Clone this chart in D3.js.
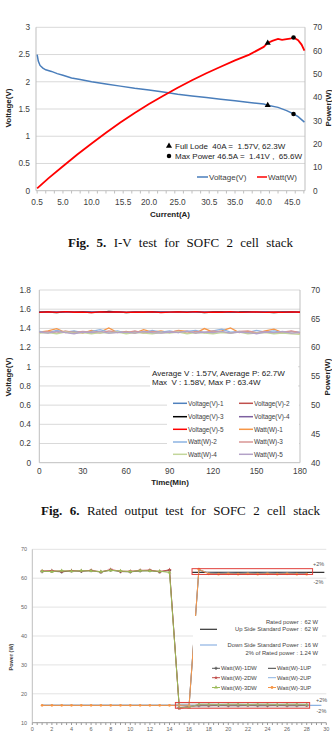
<!DOCTYPE html>
<html>
<head>
<meta charset="utf-8">
<script src="https://cdn.jsdelivr.net/npm/d3@7"></script>
<style>
body{margin:0;background:#fff}
svg text{font-family:"Liberation Sans",Arial,sans-serif;fill:#404040}
svg text.cap{font-family:"Liberation Serif","Times New Roman",serif;fill:#111}
</style>
</head>
<body>
<script>
// ---------- Fig.5 data : I-V curve ----------
var ivCurrent = [0.5,0.7,1.0,1.5,2.0,3.0,4.0,5.0,6.5,8.0,10.0,12.5,15.0,17.5,20.0,22.5,25.0,27.5,30.0,32.5,35.0,37.5,40.0,40.7,42.5,44.0,45.2,46.0,47.1];
var ivVoltage = [2.50,2.38,2.30,2.25,2.22,2.19,2.15,2.12,2.07,2.04,2.00,1.96,1.92,1.88,1.85,1.81,1.77,1.74,1.71,1.68,1.65,1.62,1.59,1.57,1.53,1.47,1.41,1.36,1.26];
var pwCurrent = [0.5,2.5,5,7.5,10,12.5,15,17.5,20,22.5,25,27.5,30,32.5,35,37.5,40,40.7,41.5,42.5,43.2,44,44.6,45.2,46,46.6,47.1];
var pwPower = [1.0,5.4,10.5,15.5,20.2,24.8,29.2,33.3,37.1,40.7,44.1,47.3,50.3,53.1,55.8,58.3,61.6,63.3,64.2,65.0,64.6,64.9,65.1,65.6,64.5,62.6,60.0];
var fullLoad = {i:40.7, v:1.57, p:63.3};
var maxPower = {i:45.2, v:1.41, p:65.6};
var currentTicks = [0.5,5.0,10.0,15.5,20.0,25.0,30.5,35.0,40.0,45.0];
var voltTicks1 = [0,0.5,1,1.5,2,2.5,3];
var powerTicks1 = [0,10,20,30,40,50,60,70];

// ---------- Fig.6 data : rated output over time ----------
var timeMin = [0,6,12,18,24,30,36,42,48,54,60,66,72,78,84,90,96,102,108,114,120,126,132,138,144,150,156,162,168,174,180];
var volt1 = [1.570,1.568,1.573,1.569,1.571,1.566,1.570,1.574,1.568,1.571,1.567,1.572,1.569,1.573,1.566,1.570,1.572,1.568,1.574,1.569,1.571,1.567,1.573,1.570,1.568,1.572,1.566,1.571,1.569,1.573,1.570];
var volt2 = [1.566,1.571,1.567,1.572,1.568,1.570,1.565,1.569,1.573,1.567,1.570,1.566,1.571,1.568,1.572,1.567,1.569,1.573,1.566,1.570,1.568,1.572,1.567,1.569,1.571,1.566,1.570,1.568,1.572,1.567,1.569];
var volt3 = [1.568,1.570,1.565,1.571,1.567,1.573,1.568,1.566,1.576,1.572,1.565,1.569,1.567,1.571,1.568,1.566,1.570,1.567,1.571,1.565,1.569,1.572,1.566,1.568,1.573,1.567,1.569,1.565,1.570,1.568,1.566];
var volt4 = [1.569,1.566,1.571,1.567,1.570,1.568,1.572,1.566,1.569,1.571,1.567,1.570,1.566,1.569,1.571,1.568,1.566,1.570,1.568,1.572,1.566,1.569,1.571,1.567,1.570,1.568,1.571,1.566,1.569,1.570,1.567];
var volt5 = [1.567,1.572,1.566,1.575,1.568,1.570,1.565,1.571,1.569,1.573,1.566,1.570,1.568,1.572,1.565,1.569,1.571,1.567,1.574,1.566,1.570,1.568,1.575,1.567,1.569,1.571,1.566,1.570,1.567,1.572,1.568];
var watt1 = [62.7,62.9,63.3,62.6,62.8,62.5,63.0,62.7,63.4,62.6,62.8,62.5,63.1,62.7,62.9,62.6,63.0,62.8,62.5,63.3,62.7,62.9,63.4,62.6,62.8,62.5,62.9,63.2,62.6,62.8,62.5];
var watt2 = [62.8,62.6,63.0,62.7,62.9,62.6,62.8,63.1,62.7,62.9,62.5,62.8,62.6,63.0,62.7,62.9,62.6,62.8,63.0,62.6,62.9,63.2,62.7,62.8,62.6,63.0,62.7,62.9,62.6,62.8,62.7];
var watt3 = [62.6,62.8,62.5,62.9,62.6,62.8,62.7,62.5,62.9,62.7,62.6,62.9,62.5,62.8,62.6,62.7,62.9,62.5,62.8,62.6,62.9,62.7,62.5,62.8,62.9,62.6,62.8,62.5,62.7,62.9,62.6];
var watt4 = [62.5,62.6,62.4,62.7,62.5,62.6,62.4,62.6,62.5,62.7,62.4,62.6,62.5,62.4,62.6,62.5,62.7,62.4,62.6,62.5,62.4,62.6,62.5,62.7,62.4,62.5,62.6,62.4,62.5,62.4,62.3];
var watt5 = [62.7,62.5,62.8,62.6,62.4,62.7,62.6,62.8,62.5,62.6,62.7,62.5,62.8,62.6,62.5,62.7,62.6,62.9,62.5,62.7,62.6,62.8,62.5,62.7,62.6,62.4,62.7,62.6,62.8,62.5,62.6];
var timeTicks = [0,30,60,90,120,150,180];
var voltTicks2 = [0,0.2,0.4,0.6,0.8,1,1.2,1.4,1.6,1.8];
var powerTicks2 = [40,45,50,55,60,65,70];

// ---------- Fig.6 lower chart data : load step test ----------
var stepIndex = [1,2,3,4,5,6,7,8,9,10,11,12,13,14,15,16,17,18,19,20,21,22,23,24,25,26,27,28];
var watt1DW = [62.3,62.4,62.2,62.5,62.4,62.6,62.1,62.8,62.3,62.2,62.5,62.6,62.2,62.7,15.2,15.6,15.9,15.9,16.0,15.9,15.9,16.0,15.9,15.9,16.0,15.9,15.9,16.0];
var watt2DW = [62.5,62.6,62.4,62.6,62.5,62.7,62.2,63.0,62.4,62.4,62.7,62.8,62.3,62.9,15.0,15.5,16.2,16.1,16.2,16.1,16.2,16.1,16.2,16.1,16.2,16.1,16.2,16.1];
var watt3DW = [62.4,62.3,62.6,62.4,62.6,62.5,62.3,62.7,62.5,62.3,62.6,62.5,62.4,62.0,15.1,15.4,16.4,16.4,16.3,16.4,16.4,16.3,16.4,16.4,16.3,16.4,16.4,16.3];
var watt1UP = [16.0,16.0,16.0,16.0,16.0,16.0,16.0,16.0,16.0,16.0,16.0,16.0,16.0,16.0,16.0,16.0,62.9,61.7,61.6,61.7,61.6,61.7,61.6,61.7,61.6,61.7,61.6,61.6];
var watt2UP = [16.1,16.1,16.1,16.1,16.1,16.1,16.1,16.1,16.1,16.1,16.1,16.1,16.1,16.1,16.1,16.1,63.0,61.8,61.7,61.8,61.7,61.8,61.7,61.8,61.7,61.8,61.7,61.7];
var watt3UP = [16.0,16.0,16.0,16.0,16.0,16.0,16.0,16.0,16.0,16.0,16.0,16.0,16.0,16.0,16.0,16.0,63.1,61.5,61.4,61.5,61.4,61.5,61.4,61.5,61.4,61.5,61.4,61.4];
var upStandard = 62, downStandard = 16;
var upBand = [61.3,63.3], downBand = [15.0,17.0];
var stepTicks = [0,2,4,6,8,10,12,14,16,18,20,22,24,26,28,30];
var powerTicks3 = [10,20,30,40,50,60,70];

var svg = d3.select("body").append("svg").attr("width",332).attr("height",735);

//small helper for horizontal grid lines
function grid(g, vals, y, x0, x1, col){
  g.selectAll(null).data(vals).enter().append("line")
    .attr("x1",x0).attr("x2",x1).attr("y1",d=>y(d)).attr("y2",d=>y(d))
    .attr("stroke",col);
}
function caption(bold, txt, x0, x1, y){
  var t = svg.append("text").attr("class","cap").attr("x",x0).attr("y",y).attr("font-size",13);
  t.append("tspan").attr("font-weight","bold").text(bold);
  t.append("tspan").text(" "+txt);
  var w = t.node().getComputedTextLength();
  var n = (bold+" "+txt).split(" ").length-1;
  t.style("word-spacing",((x1-x0-w)/n)+"px");
}

// ================= Fig.5 chart =================
var g1 = svg.append("g");
var x1 = d3.scaleLinear().domain([0.3,47.2]).range([36,305]);
var yV1 = d3.scaleLinear().domain([0,3]).range([190.7,27.3]);
var yP1 = d3.scaleLinear().domain([0,70]).range([190.7,27.3]);

grid(g1, voltTicks1.slice(1), yV1, 36, 305, "#d9d9d9");
g1.append("line").attr("x1",36).attr("x2",36).attr("y1",27.3).attr("y2",190.7).attr("stroke","#bfbfbf");
g1.append("line").attr("x1",305).attr("x2",305).attr("y1",27.3).attr("y2",190.7).attr("stroke","#bfbfbf");
g1.append("line").attr("x1",36).attr("x2",305).attr("y1",190.7).attr("y2",190.7).attr("stroke","#bfbfbf");
g1.selectAll(null).data(d3.range(0.5,47.2,1.5)).enter().append("line")
  .attr("x1",d=>x1(d)).attr("x2",d=>x1(d)).attr("y1",190.7).attr("y2",193.5).attr("stroke","#bfbfbf");

g1.selectAll(null).data(voltTicks1).enter().append("text")
  .attr("x",30).attr("y",d=>yV1(d)).attr("dy","0.35em").attr("text-anchor","end")
  .attr("font-size",8.3).text(d3.format("~g"));
g1.selectAll(null).data(powerTicks1).enter().append("text")
  .attr("x",313).attr("y",d=>yP1(d)).attr("dy","0.35em")
  .attr("font-size",8.3).text(d=>d);
g1.selectAll(null).data(currentTicks).enter().append("text")
  .attr("x",d=>x1(d)).attr("y",202).attr("dy","0.35em").attr("text-anchor","middle")
  .attr("font-size",8.3).text(d3.format(".1f"));

g1.append("text").attr("transform","translate(11,108) rotate(-90)").attr("text-anchor","middle")
  .attr("font-size",8).attr("font-weight","bold").style("fill","#222").text("Voltage(V)");
g1.append("text").attr("transform","translate(331,108) rotate(-90)").attr("text-anchor","middle")
  .attr("font-size",8).attr("font-weight","bold").style("fill","#222").text("Power(W)");
g1.append("text").attr("x",170).attr("y",214).attr("dy","0.35em").attr("text-anchor","middle")
  .attr("font-size",8).attr("font-weight","bold").style("fill","#222").text("Current(A)");

var vLine1 = d3.line().x((d,i)=>x1(ivCurrent[i])).y(d=>yV1(d));
var pLine1 = d3.line().x((d,i)=>x1(pwCurrent[i])).y(d=>yP1(d));
g1.append("path").attr("d",vLine1(ivVoltage)).attr("fill","none").attr("stroke","#4a7ebb").attr("stroke-width",1.5);
g1.append("path").attr("d",pLine1(pwPower)).attr("fill","none").attr("stroke","#ff0000").attr("stroke-width",1.8);

var tri = d3.symbol().type(d3.symbolTriangle).size(16);
var dot = d3.symbol().type(d3.symbolCircle).size(16);
g1.append("path").attr("d",tri()).attr("transform","translate("+x1(fullLoad.i)+","+yV1(fullLoad.v)+")");
g1.append("path").attr("d",tri()).attr("transform","translate("+x1(fullLoad.i)+","+yP1(fullLoad.p)+")");
g1.append("path").attr("d",dot()).attr("transform","translate("+x1(maxPower.i)+","+yV1(maxPower.v)+")");
g1.append("path").attr("d",dot()).attr("transform","translate("+x1(maxPower.i)+","+yP1(maxPower.p)+")");

g1.append("path").attr("d",tri()).attr("transform","translate(169,146)");
g1.append("path").attr("d",dot()).attr("transform","translate(169,156)");
g1.append("text").attr("x",175).attr("y",146).attr("dy","0.35em").attr("font-size",8).style("fill","#222")
  .attr("xml:space","preserve").text("Full Lode  40A =  1.57V, 62.3W");
g1.append("text").attr("x",175).attr("y",156).attr("dy","0.35em").attr("font-size",8).style("fill","#222")
  .attr("xml:space","preserve").text("Max Power 46.5A =  1.41V ,  65.6W");

g1.append("line").attr("x1",197).attr("x2",208).attr("y1",177).attr("y2",177).attr("stroke","#4a7ebb").attr("stroke-width",1.5);
g1.append("text").attr("x",209).attr("y",177).attr("dy","0.35em").attr("font-size",8).text("Voltage(V)");
g1.append("line").attr("x1",257).attr("x2",267).attr("y1",177).attr("y2",177).attr("stroke","#ff0000").attr("stroke-width",1.5);
g1.append("text").attr("x",268).attr("y",177).attr("dy","0.35em").attr("font-size",8).text("Watt(W)");

caption("Fig. 5.","I-V test for SOFC 2 cell stack",68,293,246.5);

// ================= Fig.6 upper chart =================
var g2 = svg.append("g");
var x2 = d3.scaleLinear().domain([0,180]).range([39.3,300]);
var yV2 = d3.scaleLinear().domain([0,1.8]).range([462.7,290]);
var yP2 = d3.scaleLinear().domain([40,70]).range([462.7,290]);

grid(g2, voltTicks2.slice(1), yV2, 39.3, 300, "#d9d9d9");
g2.append("line").attr("x1",39.3).attr("x2",39.3).attr("y1",290).attr("y2",462.7).attr("stroke","#bfbfbf");
g2.append("line").attr("x1",300).attr("x2",300).attr("y1",290).attr("y2",462.7).attr("stroke","#bfbfbf");
g2.append("line").attr("x1",39.3).attr("x2",300).attr("y1",462.7).attr("y2",462.7).attr("stroke","#bfbfbf");

g2.selectAll(null).data(voltTicks2).enter().append("text")
  .attr("x",31).attr("y",d=>yV2(d)).attr("dy","0.35em").attr("text-anchor","end")
  .attr("font-size",8.3).text(d3.format("~g"));
g2.selectAll(null).data(powerTicks2).enter().append("text")
  .attr("x",311).attr("y",d=>yP2(d)).attr("dy","0.35em")
  .attr("font-size",8.3).text(d=>d);
g2.selectAll(null).data(timeTicks).enter().append("text")
  .attr("x",d=>x2(d)).attr("y",471).attr("dy","0.35em").attr("text-anchor","middle")
  .attr("font-size",8.3).text(d=>d);
g2.append("text").attr("transform","translate(11,377) rotate(-90)").attr("text-anchor","middle")
  .attr("font-size",8).attr("font-weight","bold").style("fill","#222").text("Voltage(V)");
g2.append("text").attr("transform","translate(330,377) rotate(-90)").attr("text-anchor","middle")
  .attr("font-size",8).attr("font-weight","bold").style("fill","#222").text("Power(W)");
g2.append("text").attr("x",170).attr("y",482).attr("dy","0.35em").attr("text-anchor","middle")
  .attr("font-size",8).attr("font-weight","bold").style("fill","#222").text("Time(Min)");

var series2 = [
  {name:"Voltage(V)-1", vals:volt1, y:yV2, col:"#4f81bd"},
  {name:"Voltage(V)-2", vals:volt2, y:yV2, col:"#c0504d"},
  {name:"Voltage(V)-3", vals:volt3, y:yV2, col:"#000000"},
  {name:"Voltage(V)-4", vals:volt4, y:yV2, col:"#7d60a0"},
  {name:"Voltage(V)-5", vals:volt5, y:yV2, col:"#ff0000"},
  {name:"Watt(W)-1", vals:watt1, y:yP2, col:"#f79646"},
  {name:"Watt(W)-2", vals:watt2, y:yP2, col:"#8db3e2"},
  {name:"Watt(W)-3", vals:watt3, y:yP2, col:"#d99694"},
  {name:"Watt(W)-4", vals:watt4, y:yP2, col:"#c3d69b"},
  {name:"Watt(W)-5", vals:watt5, y:yP2, col:"#b3a2c7"}
];
series2.forEach(function(s){
  var ln = d3.line().x((d,i)=>x2(timeMin[i])).y(d=>s.y(d));
  g2.append("path").attr("d",ln(s.vals)).attr("fill","none").attr("stroke",s.col).attr("stroke-width",1.3);
});

g2.append("rect").attr("x",150).attr("y",365).attr("width",148).attr("height",24).attr("fill","#fff");
g2.append("text").attr("x",152).attr("y",373).attr("dy","0.35em").attr("font-size",8).style("fill","#222")
  .text("Average V : 1.57V, Average P: 62.7W");
g2.append("text").attr("x",152).attr("y",382.5).attr("dy","0.35em").attr("font-size",8).style("fill","#222")
  .attr("xml:space","preserve").text("Max  V : 1.58V, Max P : 63.4W");

g2.append("rect").attr("x",167).attr("y",396).attr("width",132).attr("height",65).attr("fill","#fff");
var legRows2 = [403.3,416.7,429.3,442,454.3];
var leg2 = g2.selectAll(null).data(series2).enter().append("g")
  .attr("transform",(d,i)=>"translate("+(i%2==0?173:239)+","+legRows2[Math.floor(i/2)]+")");
leg2.append("line").attr("x1",0).attr("x2",14).attr("stroke",d=>d.col).attr("stroke-width",1.5);
leg2.append("text").attr("x",15).attr("dy","0.35em").attr("font-size",6.4).text(d=>d.name);

caption("Fig. 6.","Rated output test for SOFC 2 cell stack",41,320,515);

// ================= Fig.6 lower chart =================
var g3 = svg.append("g");
var x3 = d3.scaleLinear().domain([0,30]).range([32.3,326.3]);
var y3 = d3.scaleLinear().domain([10,70]).range([722.7,549.3]);

grid(g3, powerTicks3.slice(1), y3, 32.3, 326.3, "#e3e3e3");
g3.append("line").attr("x1",32.3).attr("x2",32.3).attr("y1",549.3).attr("y2",722.7).attr("stroke","#bfbfbf");
g3.append("line").attr("x1",32.3).attr("x2",326.3).attr("y1",722.7).attr("y2",722.7).attr("stroke","#999");
g3.selectAll(null).data(d3.range(0,30.1,0.5)).enter().append("line")
  .attr("x1",d=>x3(d)).attr("x2",d=>x3(d)).attr("y1",722.7).attr("y2",725).attr("stroke","#999");
g3.selectAll(null).data(powerTicks3).enter().append("text")
  .attr("x",27).attr("y",d=>y3(d)).attr("dy","0.35em").attr("text-anchor","end")
  .attr("font-size",5.5).style("fill","#666").text(d=>d);
g3.selectAll(null).data(stepTicks).enter().append("text")
  .attr("x",d=>x3(d)).attr("y",729.5).attr("dy","0.35em").attr("text-anchor","middle")
  .attr("font-size",5.5).style("fill","#666").text(d=>d);
g3.append("text").attr("transform","translate(12.5,657) rotate(-90)").attr("text-anchor","middle")
  .attr("font-size",5.5).attr("font-weight","bold").style("fill","#444").text("Power (W)");

// standard lines
g3.append("line").attr("x1",x3(16.3)).attr("x2",x3(29.8)).attr("y1",y3(upStandard)).attr("y2",y3(upStandard))
  .attr("stroke","#333").attr("stroke-width",1.2);
g3.append("line").attr("x1",x3(14.6)).attr("x2",x3(29.5)).attr("y1",y3(downStandard)).attr("y2",y3(downStandard))
  .attr("stroke","#8db3e2").attr("stroke-width",1.2);

var series3 = [
  {name:"Watt(W)-1DW", vals:watt1DW, col:"#595959", mk:d3.symbolCross},
  {name:"Watt(W)-2DW", vals:watt2DW, col:"#c0504d", mk:d3.symbolStar},
  {name:"Watt(W)-3DW", vals:watt3DW, col:"#9bbb59", mk:d3.symbolTriangle},
  {name:"Watt(W)-1UP", vals:watt1UP, col:"#404040", mk:null},
  {name:"Watt(W)-2UP", vals:watt2UP, col:"#8db3e2", mk:null},
  {name:"Watt(W)-3UP", vals:watt3UP, col:"#f79646", mk:d3.symbolCircle}
];
var ln3 = d3.line().x((d,i)=>x3(stepIndex[i])).y(d=>y3(d));
series3.forEach(function(s){
  g3.append("path").attr("d",ln3(s.vals)).attr("fill","none").attr("stroke",s.col).attr("stroke-width",1);
  if(s.mk){
    g3.selectAll(null).data(s.vals).enter().append("path")
      .attr("d",d3.symbol().type(s.mk).size(6))
      .attr("transform",(d,i)=>"translate("+x3(stepIndex[i])+","+y3(d)+")")
      .attr("fill",s.col);
  }
});

// tolerance boxes
g3.append("rect").attr("x",x3(16.3)).attr("y",y3(upBand[1])).attr("width",x3(28.6)-x3(16.3))
  .attr("height",y3(upBand[0])-y3(upBand[1])).attr("fill","none").attr("stroke","#e0403c").attr("stroke-width",1);
g3.append("rect").attr("x",x3(14.6)).attr("y",y3(downBand[1])).attr("width",x3(28.3)-x3(14.6))
  .attr("height",y3(downBand[0])-y3(downBand[1])).attr("fill","#a6a6a6").attr("fill-opacity",0.35)
  .attr("stroke","#e0403c").attr("stroke-width",1);

var pctNotes = [{t:"+2%",x:313,y:564},{t:"-2%",x:313.5,y:581.7},{t:"+2%",x:316,y:700},{t:"-2%",x:316.5,y:711}];
g3.selectAll(null).data(pctNotes).enter().append("text")
  .attr("x",d=>d.x).attr("y",d=>d.y).attr("dy","0.35em").attr("font-size",5.5).style("fill","#555").text(d=>d.t);

// legend and notes
g3.append("rect").attr("x",193).attr("y",616).attr("width",129).attr("height",76).attr("fill","#fff");
var notes3 = [
  {l:"Rated power :", v:"62 W", y:622.3},
  {l:"Up Side Standard Power :", v:"62 W", y:629.3},
  {l:"Down Side Standard Power :", v:"16 W", y:645.3}
];
g3.selectAll(null).data(notes3).enter().append("text")
  .attr("x",302).attr("y",d=>d.y).attr("dy","0.35em").attr("text-anchor","end")
  .attr("font-size",5.8).style("fill","#444").text(d=>d.l);
g3.selectAll(null).data(notes3).enter().append("text")
  .attr("x",318).attr("y",d=>d.y).attr("dy","0.35em").attr("text-anchor","end")
  .attr("font-size",5.8).style("fill","#444").text(d=>d.v);
g3.append("text").attr("x",318).attr("y",653.3).attr("dy","0.35em").attr("text-anchor","end")
  .attr("font-size",5.8).style("fill","#444").text("2% of Rated power : 1.24 W");
g3.append("line").attr("x1",200).attr("x2",217).attr("y1",629.3).attr("y2",629.3).attr("stroke","#333").attr("stroke-width",1.2);
g3.append("line").attr("x1",200).attr("x2",217).attr("y1",645).attr("y2",645).attr("stroke","#8db3e2").attr("stroke-width",1.2);

var legRows3 = [668.3,677.7,687.5];
var leg3 = g3.selectAll(null).data(series3).enter().append("g")
  .attr("transform",(d,i)=>"translate("+(i<3?212:268)+","+legRows3[i%3]+")");
leg3.append("line").attr("x1",0).attr("x2",8).attr("stroke",d=>d.col).attr("stroke-width",1);
leg3.filter(d=>d.mk).append("path").attr("d",d=>d3.symbol().type(d.mk).size(6)()).attr("transform","translate(4,0)").attr("fill",d=>d.col);
leg3.append("text").attr("x",9).attr("dy","0.35em").attr("font-size",5.8).style("fill","#444").text(d=>d.name);
</script>
</body>
</html>
